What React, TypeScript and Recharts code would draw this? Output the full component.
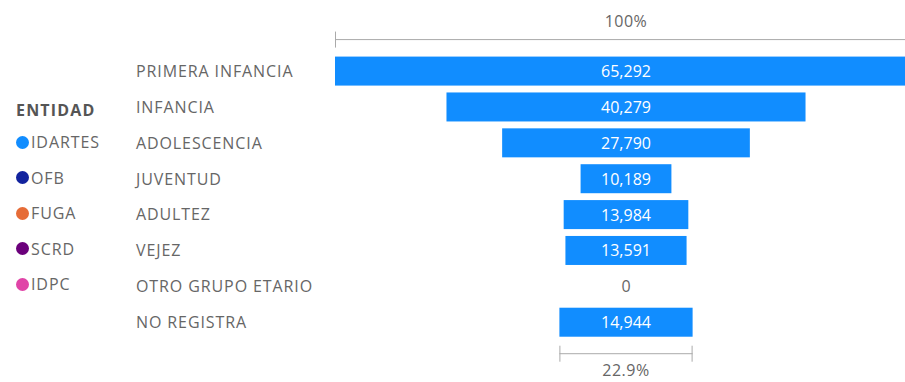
import { BarChart, Bar, XAxis, YAxis, LabelList } from 'recharts'

const CATEGORIES = ['PRIMERA INFANCIA', 'INFANCIA', 'ADOLESCENCIA', 'JUVENTUD', 'ADULTEZ', 'VEJEZ', 'OTRO GRUPO ETARIO', 'NO REGISTRA']
const VALUES = [65292, 40279, 27790, 10189, 13984, 13591, 0, 14944]
const ENTIDADES = ['IDARTES', 'OFB', 'FUGA', 'SCRD', 'IDPC']
const ENTIDAD_COLORS = ['#118DFF', '#12239E', '#E66C37', '#6B007B', '#E044A7']

const FONT = '"Open Sans", "Noto Sans", sans-serif'
const BLUE = '#118DFF'
const GREY = '#666666'

const maxVal = Math.max(...VALUES)
const data = CATEGORIES.map((name, i) => ({ name, pad: (maxVal - VALUES[i]) / 2, value: VALUES[i] }))
const nf = new Intl.NumberFormat('en-US')
const lastPct = ((VALUES[VALUES.length - 1] / VALUES[0]) * 100).toFixed(1) + '%'

function CatTick({ y, payload }: any) {
  return (
    <text x={136} y={y} dy={6} fill={GREY} fontSize={16} letterSpacing={0.9} fontFamily={FONT} textAnchor="start">
      {payload.value}
    </text>
  )
}

function FunnelShape(props: any) {
  const { x, y, width, height, index } = props
  const last = index === VALUES.length - 1
  const cx = x + width / 2
  return (
    <g>
      {width > 0 && <rect x={x} y={y} width={width} height={height} fill={BLUE} />}
      {index === 0 && (
        <g stroke="#aaaaaa" strokeWidth={1}>
          <line x1={x} x2={x + width} y1={y - 17} y2={y - 17} />
          <line x1={x + 0.5} x2={x + 0.5} y1={y - 25} y2={y - 9} />
          <line x1={x + width - 0.5} x2={x + width - 0.5} y1={y - 25} y2={y - 9} />
          <text x={cx} y={y - 30} textAnchor="middle" fill={GREY} stroke="none" fontSize={16} letterSpacing={0.5} fontFamily={FONT}>100%</text>
        </g>
      )}
      {last && (
        <g stroke="#aaaaaa" strokeWidth={1}>
          <line x1={x} x2={x + width} y1={y + height + 17} y2={y + height + 17} />
          <line x1={x + 0.5} x2={x + 0.5} y1={y + height + 9} y2={y + height + 25} />
          <line x1={x + width - 0.5} x2={x + width - 0.5} y1={y + height + 9} y2={y + height + 25} />
          <text x={cx} y={y + height + 39} textAnchor="middle" fill={GREY} stroke="none" fontSize={16} letterSpacing={0.5} fontFamily={FONT}>{lastPct}</text>
        </g>
      )}
    </g>
  )
}

function ValueLabel(props: any) {
  const { x, y, width, height, value } = props
  return (
    <text x={x + width / 2} y={y + height / 2} dy={6} textAnchor="middle"
      fill={value === 0 ? GREY : '#ffffff'} fontSize={16} fontFamily={FONT}>
      {nf.format(value)}
    </text>
  )
}

function EntidadLegend() {
  return (
    <div style={{ position: 'absolute', left: 16, top: 98, fontFamily: FONT, color: GREY, fontSize: 16, letterSpacing: 0.9 }}>
      <div style={{ fontWeight: 700, color: '#555', height: 24, lineHeight: '24px', marginBottom: 8, letterSpacing: 1.2 }}>ENTIDAD</div>
      {ENTIDADES.map((e, i) => (
        <div key={e} style={{ display: 'flex', alignItems: 'center', height: 24, lineHeight: '24px', marginBottom: 11.6 }}>
          <span style={{ width: 13, height: 13, borderRadius: 7, background: ENTIDAD_COLORS[i], display: 'inline-block', marginRight: 2 }} />
          <span>{e}</span>
        </div>
      ))}
    </div>
  )
}

export default function App() {
  return (
    <div style={{ position: 'absolute', left: 0, top: 0, width: 905, height: 382, overflow: 'hidden', background: '#fff' }}>
      <BarChart width={930} height={382} data={data} layout="vertical"
        margin={{ top: 53, right: 13, bottom: 42, left: 135 }}>
        <XAxis type="number" domain={[0, maxVal]} hide />
        <YAxis type="category" dataKey="name" width={200} axisLine={false} tickLine={false} tick={<CatTick />} />
        <Bar dataKey="pad" stackId="a" fill="transparent" isAnimationActive={false} />
        <Bar dataKey="value" stackId="a" fill={BLUE} barSize={32} shape={FunnelShape} isAnimationActive={false}>
          <LabelList dataKey="value" content={<ValueLabel />} />
        </Bar>
      </BarChart>
      <EntidadLegend />
    </div>
  )
}
